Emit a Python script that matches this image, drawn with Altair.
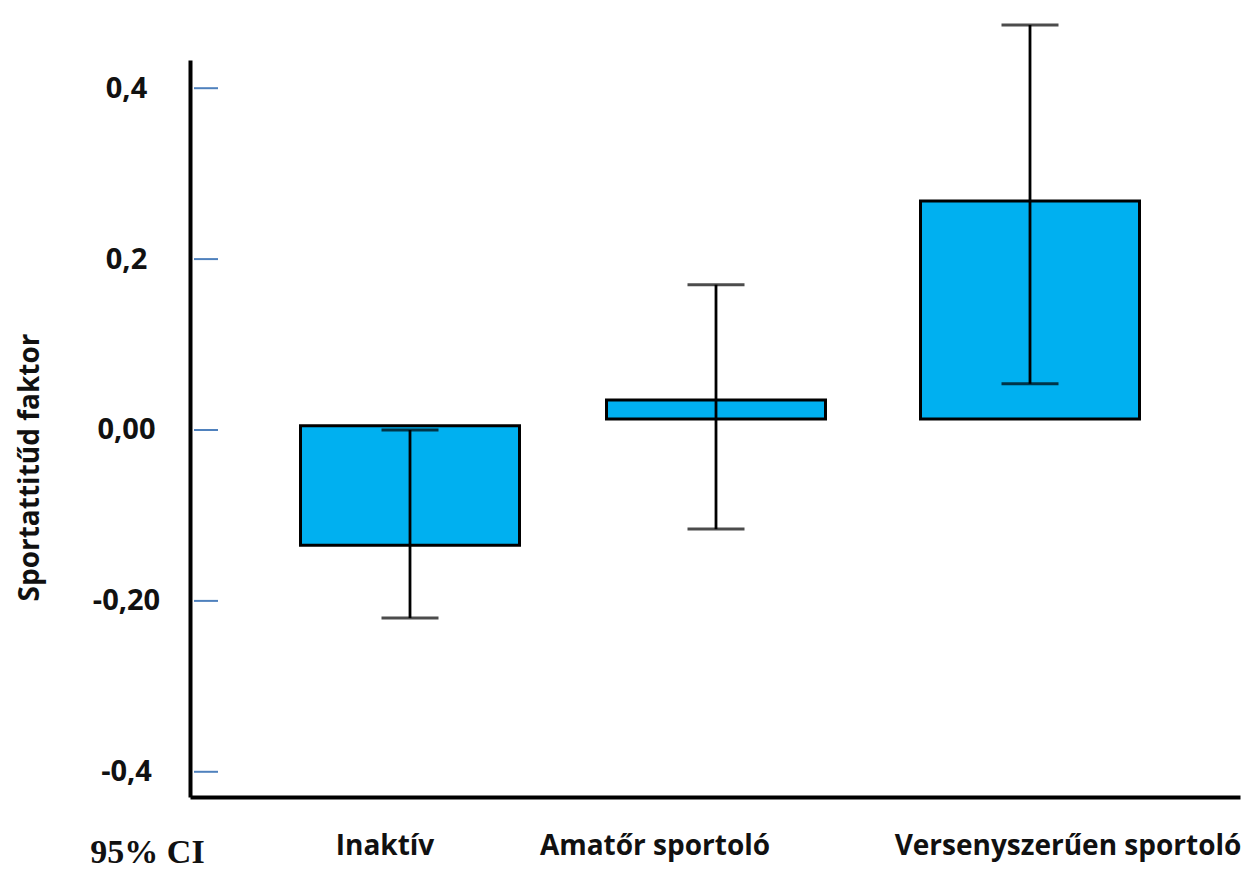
import altair as alt
import pandas as pd

categories = ["Inaktív", "Amatőr sportoló", "Versenyszerűen sportoló"]
bar_low = [-0.135, 0.013, 0.013]
bar_high = [0.005, 0.035, 0.268]
ci_low = [-0.22, -0.116, 0.054]
ci_high = [0.0, 0.17, 0.474]

tick_values = [-0.4, -0.2, 0.0, 0.2, 0.4]
tick_labels = ["-0,4", "-0,20", "0,00", "0,2", "0,4"]

# style: per-category pixel offsets of the drawn group and label
bar_offsets = [45, 1, -35]
label_dx = [20, -60, 3]

df = pd.DataFrame({
    "cat": categories,
    "bar_low": bar_low,
    "bar_high": bar_high,
    "ci_low": ci_low,
    "ci_high": ci_high,
})
ticks_df = pd.DataFrame({"v": tick_values})

label_expr = " : ".join(
    f"datum.value == {v} ? '{l}'" for v, l in zip(tick_values, tick_labels)
) + " : ''"

FONT = "Open Sans"

x_enc = alt.X(
    "cat:N",
    scale=alt.Scale(domain=categories, paddingInner=0, paddingOuter=0),
    axis=alt.Axis(
        labels=False, ticks=False, domainColor="black", domainWidth=4,
        title="95% CI", titleFont="Liberation Serif", titleFontSize=34,
        titleFontWeight="bold", titleColor="#111", titleX=-43, titleY=55,
        titleAlign="center", titleBaseline="middle",
    ),
)
y_scale = alt.Scale(domain=[-0.4295, 0.433], nice=False, zero=False)
y_axis = alt.Axis(
    values=tick_values, labelExpr=label_expr, ticks=False, grid=False,
    domainColor="black", domainWidth=4, labelFont=FONT, labelFontSize=29,
    labelFontWeight="bold", labelColor="#111", labelPadding=64,
    labelAlign="center",
    title="Sportattitűd  faktor", titleFont=FONT, titleFontSize=28,
    titleFontWeight="bold", titleColor="#111", titleX=-160, titleY=407,
    titleAngle=270, titleAlign="center", titleBaseline="middle",
)

base = alt.Chart(df)
layers = []

tick_layer = alt.Chart(ticks_df).mark_rule(color="#4F81BD", strokeWidth=2).encode(
    x=alt.value(4), x2=alt.value(28),
    y=alt.Y("v:Q", scale=y_scale, axis=y_axis),
)
layers.append(tick_layer)

for c, off, ldx in zip(categories, bar_offsets, label_dx):
    sub = base.transform_filter(alt.datum.cat == c)
    bar = sub.mark_bar(
        width=219, xOffset=off, fill="#00B0F0", stroke="black", strokeWidth=3
    ).encode(
        x=x_enc,
        y=alt.Y("bar_low:Q", scale=y_scale, axis=y_axis),
        y2="bar_high:Q",
    )
    rule = sub.mark_rule(xOffset=off, color="black", strokeWidth=2.8, clip=False).encode(
        x=x_enc,
        y=alt.Y("ci_low:Q", scale=y_scale, axis=y_axis),
        y2="ci_high:Q",
    )
    cap_low = sub.mark_tick(
        xOffset=off, color="black", size=57, thickness=3, orient="horizontal"
    ).encode(x=x_enc, y=alt.Y("ci_low:Q", scale=y_scale, axis=y_axis))
    cap_high = sub.mark_tick(
        xOffset=off, color="black", size=57, thickness=3, orient="horizontal"
    ).encode(x=x_enc, y=alt.Y("ci_high:Q", scale=y_scale, axis=y_axis))
    label = sub.mark_text(
        dx=ldx, font=FONT, fontSize=28, fontWeight="bold", color="#111",
        align="center", baseline="alphabetic",
    ).encode(x=x_enc, y=alt.value(795), text="cat:N")
    layers += [bar, rule, cap_low, cap_high, label]

chart = alt.layer(*layers).properties(
    width=1050, height=737,
    autosize=alt.AutoSizeParams(type="none"),
    padding={"left": 182, "top": 52, "right": 5, "bottom": 74},
).configure_view(stroke=None)

chart.save("out.html", embed_options={"renderer": "svg", "actions": False})
